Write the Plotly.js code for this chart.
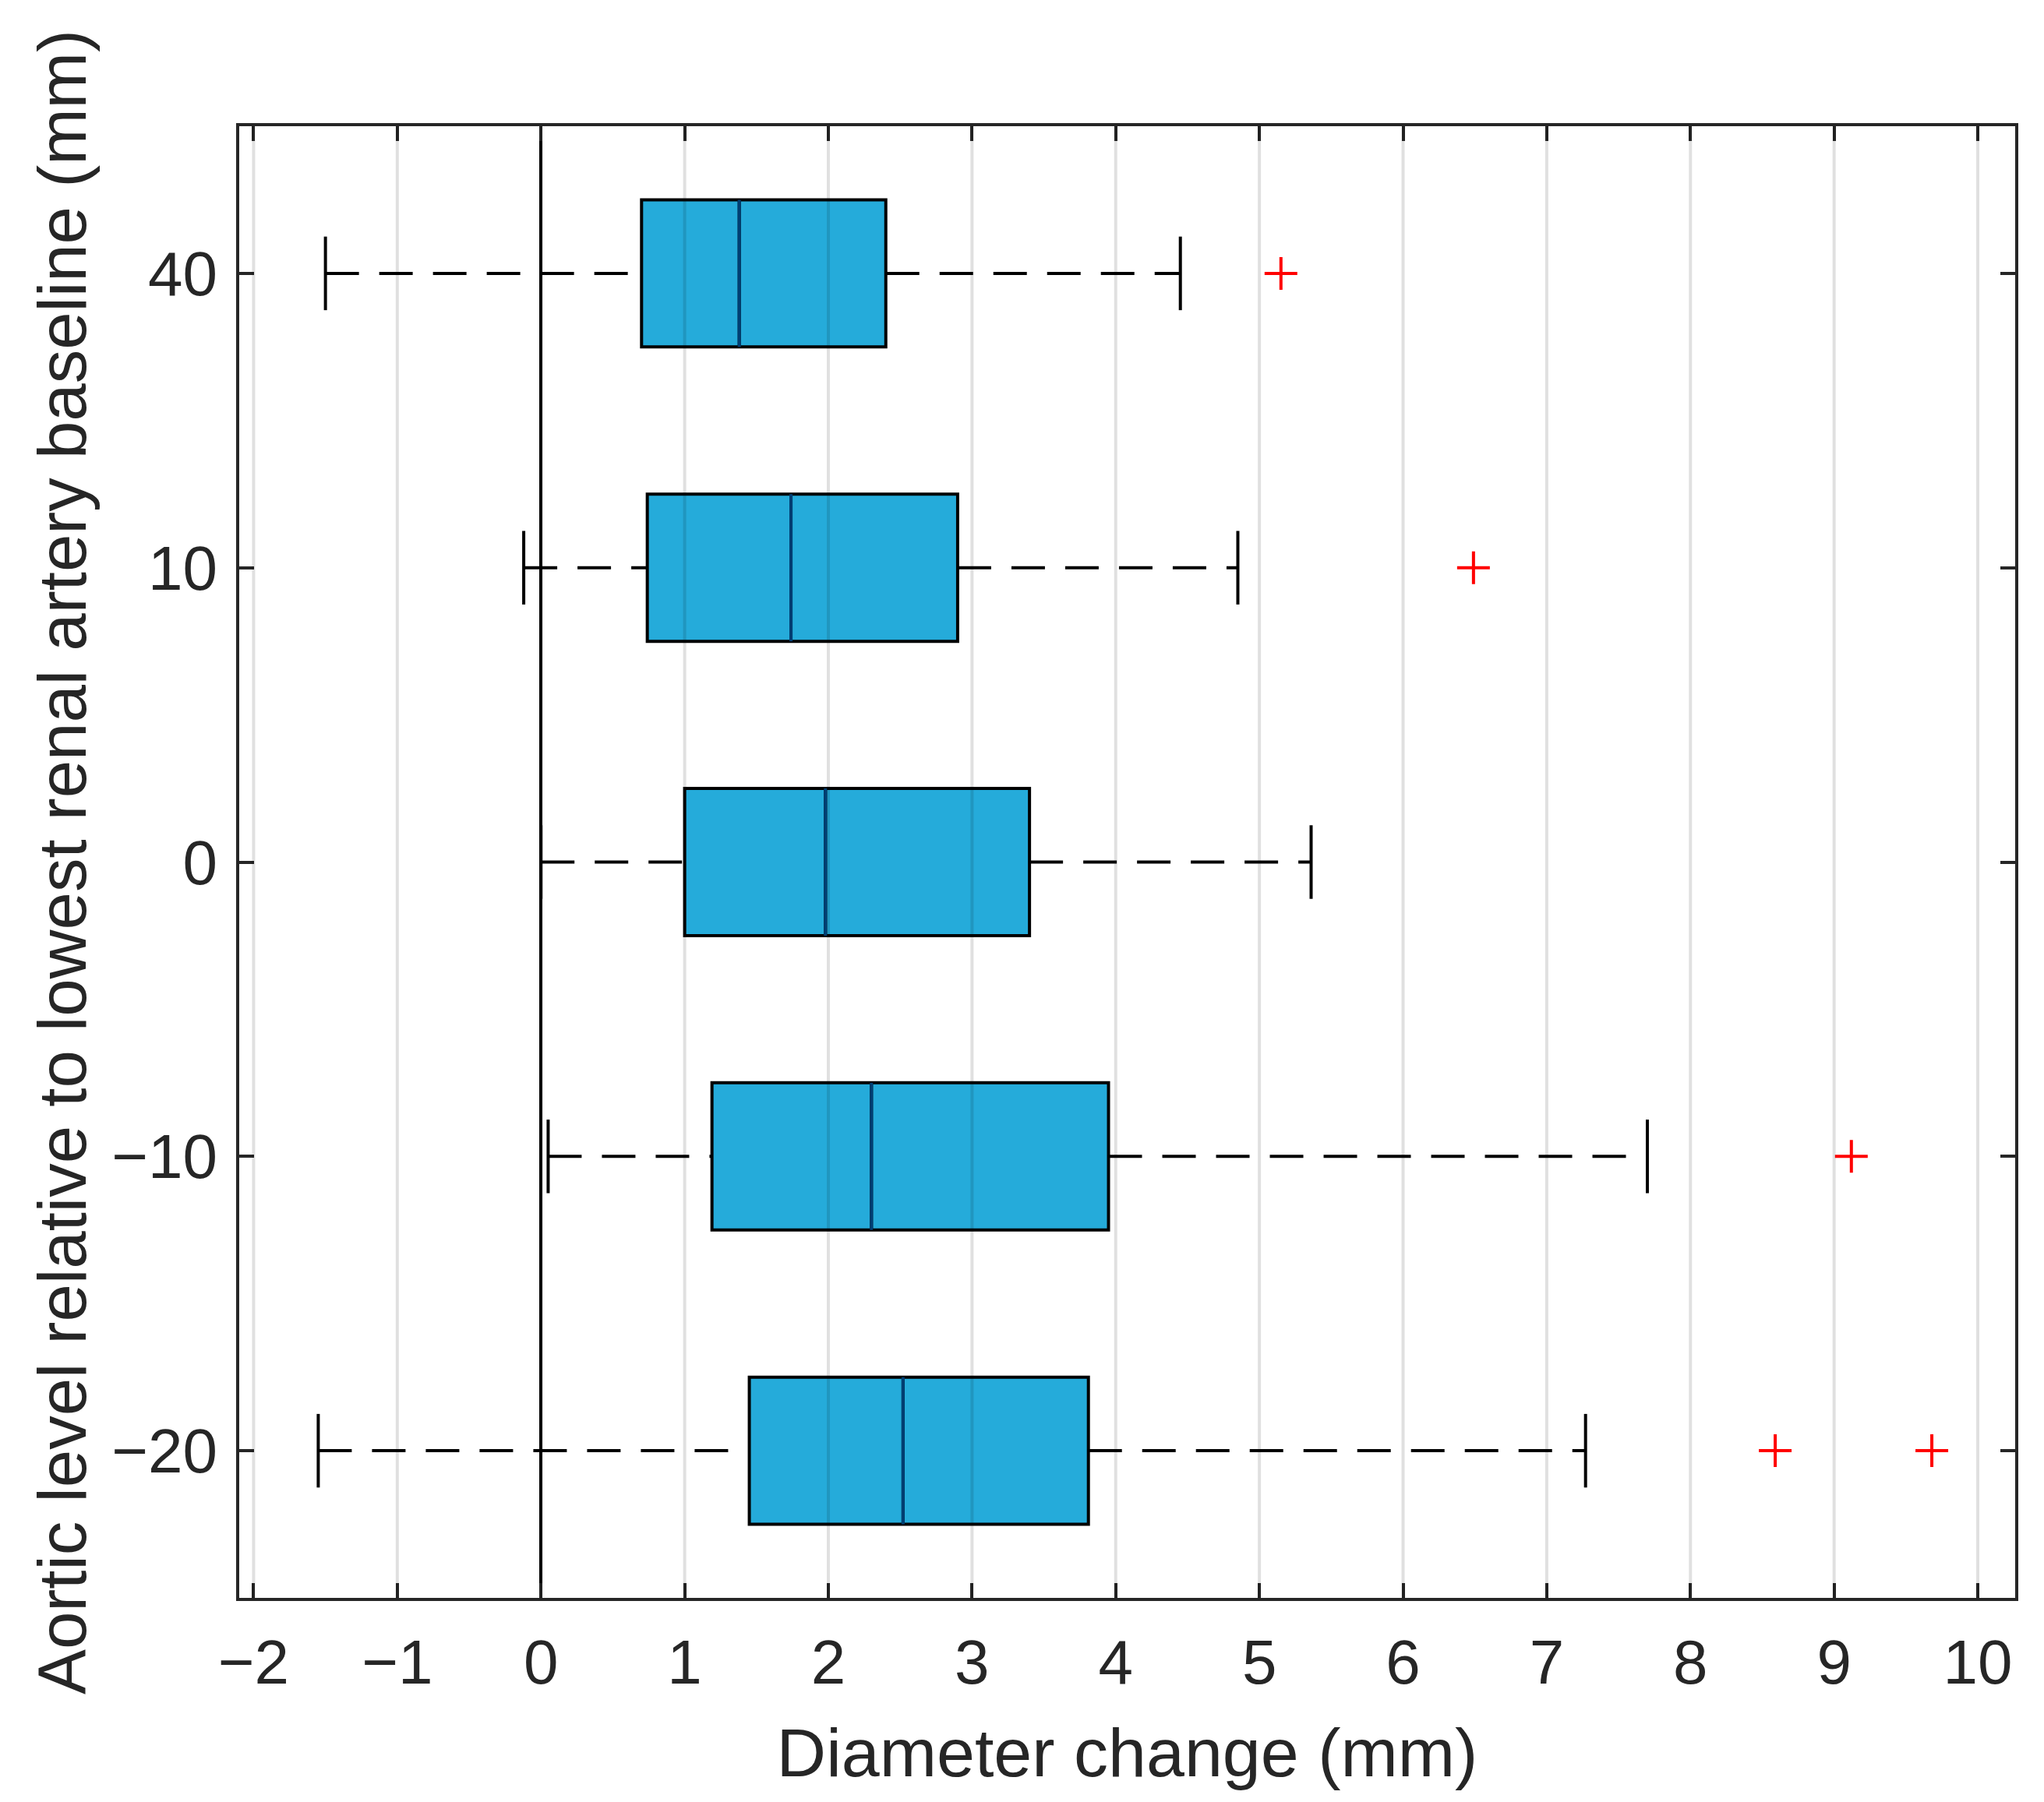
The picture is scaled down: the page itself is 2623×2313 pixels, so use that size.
<!DOCTYPE html>
<html><head><meta charset="utf-8">
<script src="https://cdn.plot.ly/plotly-3.0.1.min.js"></script>
<style>html,body{margin:0;padding:0;background:#fff}</style>
</head><body>
<div id="chart" style="width:2623px;height:2313px"></div>
<script>
// Data
const levelLabels = ['40', '10', '0', '-10', '-20'];
const lowerWhisker = [-1.50, -0.12, 0.00, 0.05, -1.55];
const q1Values = [0.70, 0.74, 1.00, 1.19, 1.45];
const medianValues = [1.38, 1.74, 1.98, 2.30, 2.52];
const q3Values = [2.40, 2.90, 3.40, 3.95, 3.81];
const upperWhisker = [4.45, 4.85, 5.36, 7.70, 7.27];
const outlierLevel = ['40', '10', '-10', '-20', '-20'];
const outlierValue = [5.15, 6.49, 9.12, 8.59, 9.68];
const xTicks = [-2, -1, 0, 1, 2, 3, 4, 5, 6, 7, 8, 9, 10];

const pos = levelLabels.map((_, i) => i);
const boxHalf = 0.25, capHalf = 0.125;
const ink = '#262626';
const font = 'Liberation Sans, Arial, Helvetica, sans-serif';
const withMinus = s => String(s).replace('-', '\u2212');

// whiskers (dashed)
const wx = [], wy = [];
pos.forEach(i => {
  wx.push(lowerWhisker[i], q1Values[i], null, q3Values[i], upperWhisker[i], null);
  wy.push(i, i, null, i, i, null);
});
// caps (solid)
const cx = [], cy = [];
pos.forEach(i => {
  cx.push(lowerWhisker[i], lowerWhisker[i], null, upperWhisker[i], upperWhisker[i], null);
  cy.push(i - capHalf, i + capHalf, null, i - capHalf, i + capHalf, null);
});
// medians
const mx = [], my = [];
pos.forEach(i => {
  mx.push(medianValues[i], medianValues[i], null);
  my.push(i - boxHalf, i + boxHalf, null);
});

const traces = [
  {
    type: 'box', orientation: 'h', y: pos,
    q1: q1Values, median: medianValues, q3: q3Values,
    lowerfence: q1Values, upperfence: q3Values,
    width: 2 * boxHalf, whiskerwidth: 0,
    fillcolor: '#25ABDA', line: { color: '#000000', width: 4 },
    hoverinfo: 'skip', showlegend: false
  },
  {
    type: 'scatter', mode: 'lines', x: wx, y: wy,
    line: { color: '#000000', width: 4, dash: '43px,26px' },
    hoverinfo: 'skip', showlegend: false
  },
  {
    type: 'scatter', mode: 'lines', x: cx, y: cy,
    line: { color: '#000000', width: 4 },
    hoverinfo: 'skip', showlegend: false
  },
  {
    type: 'scatter', mode: 'lines', x: mx, y: my,
    line: { color: '#003E73', width: 4 },
    hoverinfo: 'skip', showlegend: false
  },
  {
    type: 'scatter', mode: 'markers',
    x: outlierValue, y: outlierLevel.map(l => levelLabels.indexOf(l)),
    marker: { symbol: 'cross-thin', size: 30, color: '#FF0000', line: { color: '#FF0000', width: 4 } },
    hoverinfo: 'skip', showlegend: false
  }
];

const gridShapes = xTicks.map(v => ({
  type: 'line', xref: 'x', yref: 'paper', x0: v, x1: v, y0: 0, y1: 1,
  layer: 'above', line: { color: 'rgba(0,0,0,0.12)', width: 4 }
}));

const axisCommon = {
  ticks: 'inside', ticklen: 19, tickwidth: 4, tickcolor: ink,
  showline: true, linecolor: ink, linewidth: 4, mirror: 'ticks',
  showgrid: false,
  tickfont: { family: font, size: 80, color: ink }
};

const layout = {
  width: 2623, height: 2313,
  margin: { l: 307, r: 37, t: 162, b: 262 },
  paper_bgcolor: '#ffffff', plot_bgcolor: '#ffffff',
  showlegend: false,
  shapes: gridShapes,
  xaxis: Object.assign({}, axisCommon, {
    range: [-2.1, 10.26],
    tickmode: 'array', tickvals: xTicks, ticktext: xTicks.map(withMinus),
    ticklabelstandoff: 10,
    zeroline: true, zerolinecolor: '#000000', zerolinewidth: 4,
    title: { text: 'Diameter change (mm)', font: { family: font, size: 88, color: ink }, standoff: 42 }
  }),
  yaxis: Object.assign({}, axisCommon, {
    range: [4.5, -0.5],
    tickmode: 'array', tickvals: pos, ticktext: levelLabels.map(withMinus),
    ticklabelstandoff: 8,
    zeroline: false,
    title: { text: 'Aortic level relative to lowest renal artery baseline (mm)', font: { family: font, size: 87, color: ink }, standoff: 5 }
  })
};

Plotly.newPlot('chart', traces, layout, { staticPlot: true, displayModeBar: false });
</script>
</body></html>
